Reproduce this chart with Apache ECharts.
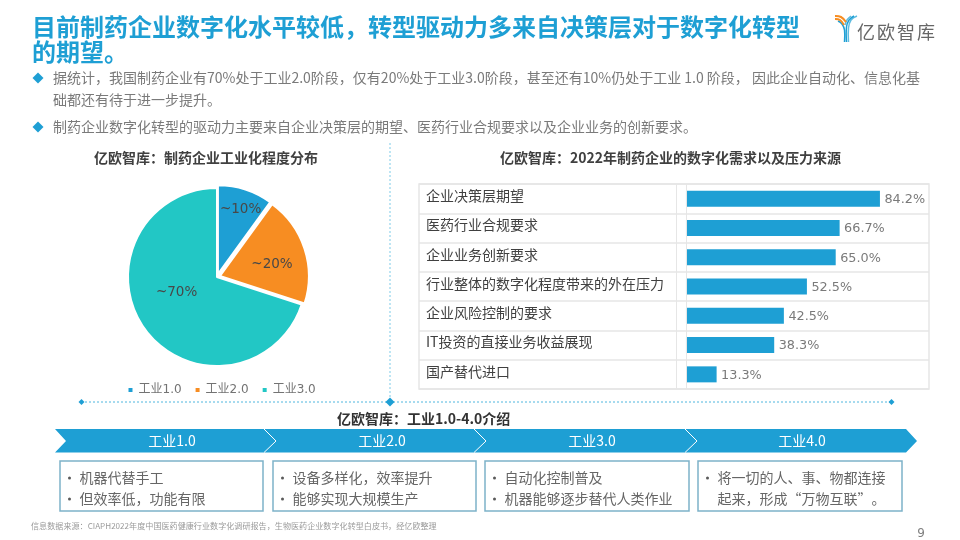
<!doctype html>
<html>
<head>
<meta charset="UTF-8">
<title>制药企业数字化</title>
<style>
html, body { margin: 0; padding: 0; background: #fff; }
#main { width: 960px; height: 540px; }
</style>
</head>
<body>
<div id="main"></div>
<script src="https://cdn.jsdelivr.net/npm/echarts@6/dist/echarts.min.js"></script>
<script>
// 饼图数据
var stageNames = ['工业1.0', '工业2.0', '工业3.0'];
var stageValues = [10, 20, 70];
// 条形图数据
var demandNames = ['企业决策层期望', '医药行业合规要求', '企业业务创新要求', '行业整体的数字化程度带来的外在压力', '企业风险控制的要求', 'IT投资的直接业务收益展现', '国产替代进口'];
var demandValues = [84.2, 66.7, 65.0, 52.5, 42.5, 38.3, 13.3];
// 文字
var titleLines = ['目前制药企业数字化水平较低，转型驱动力多来自决策层对于数字化转型', '的期望。'];
var bodyLines = [
	'据统计，我国制药企业有70%处于工业2.0阶段，仅有20%处于工业3.0阶段，甚至还有10%仍处于工业 1.0 阶段， 因此企业自动化、信息化基',
	'础都还有待于进一步提升。',
	'制药企业数字化转型的驱动力主要来自企业决策层的期望、医药行业合规要求以及企业业务的创新要求。'
];
var stepNames = ['工业1.0', '工业2.0', '工业3.0', '工业4.0'];
var stepTexts = [
	['机器代替手工', '但效率低，功能有限'],
	['设备多样化，效率提升', '能够实现大规模生产'],
	['自动化控制普及', '机器能够逐步替代人类作业'],
	['将一切的人、事、物都连接', '起来，形成“万物互联”。']
];
var sourceText = '信息数据来源：CIAPH2022年度中国医药健康行业数字化调研报告，生物医药企业数字化转型白皮书，经亿欧整理';

var BLUE = '#1E9FD4', ORANGE = '#F78D22', TEAL = '#22C7C5';
var CJK = '"Noto Sans CJK SC", sans-serif';
var LATIN = '"DejaVu Sans", "Noto Sans CJK SC", sans-serif';
var pieLabelOffsets = [[8, -19], [7, 3], [-2, -12]];

function text(x, y, str, size, color, weight, align, family) {
	return {
		type: 'text', z: 10,
		style: {
			x: x, y: y, text: str, fontSize: size, fill: color,
			fontWeight: weight || 'normal', fontFamily: family || CJK,
			align: align || 'left', verticalAlign: 'middle'
		}
	};
}
function diamond(x, y, r) {
	return {
		type: 'polygon', z: 10,
		shape: { points: [[x - r, y], [x, y - r], [x + r, y], [x, y + r]] },
		style: { fill: BLUE }
	};
}
function line(x1, y1, x2, y2, color, width, dash) {
	return {
		type: 'line', z: 9,
		shape: { x1: x1, y1: y1, x2: x2, y2: y2 },
		style: { stroke: color, lineWidth: width, lineDash: dash || null }
	};
}
function curve(points, color, width) {
	return {
		type: 'polyline', z: 10,
		shape: { points: points, smooth: 0.4 },
		style: { stroke: color, lineWidth: width, fill: 'none' }
	};
}

var graphics = [];
// 标题
titleLines.forEach(function(s, i) {
	graphics.push(text(32, 27 + i * 25, s, 24, BLUE, 'bold'));
});
// 正文
graphics.push(diamond(38, 78, 5.5), diamond(38, 127, 5.5));
graphics.push(text(53, 78, bodyLines[0], 14, '#7a7a7a'));
graphics.push(text(53, 100, bodyLines[1], 14, '#7a7a7a'));
graphics.push(text(53, 127, bodyLines[2], 14, '#7a7a7a'));
// 小标题
graphics.push(text(94, 158, '亿欧智库：制药企业工业化程度分布', 14, '#404040', 'bold'));
graphics.push(text(500, 158, '亿欧智库：2022年制药企业的数字化需求以及压力来源', 14, '#404040', 'bold'));
graphics.push(text(337, 419, '亿欧智库：工业1.0-4.0介绍', 14, '#333333', 'bold'));
// 分隔线
graphics.push(line(390, 143, 390, 402, '#7CCBE8', 1, [2, 2]));
graphics.push(line(81, 402, 891, 402, '#4FB6DE', 1, [2, 2]));
graphics.push(diamond(81.5, 402, 3), diamond(390, 402, 4.5), diamond(891.5, 402, 3));
// 流程箭头
graphics.push({
	type: 'polygon', z: 8,
	shape: { points: [[55, 429], [906, 429], [917, 441], [906, 452.5], [55, 452.5], [66, 441]] },
	style: { fill: BLUE }
});
[264, 474, 685].forEach(function(x) {
	graphics.push({
		type: 'polyline', z: 9,
		shape: { points: [[x, 429], [x + 12, 441], [x, 452.5]] },
		style: { stroke: '#fff', lineWidth: 1, fill: 'none' }
	});
});
var stepCenters = [172, 382, 592, 802];
stepNames.forEach(function(s, i) {
	graphics.push(text(stepCenters[i], 441, s, 14, '#fff', 'normal', 'center'));
});
// 说明框
var boxLefts = [60, 273, 485, 698];
var boxWidths = [203, 203, 204, 204];
stepTexts.forEach(function(lines, i) {
	var left = boxLefts[i];
	graphics.push({
		type: 'rect', z: 8,
		shape: { x: left, y: 461, width: boxWidths[i], height: 50 },
		style: { fill: '#fff', stroke: '#7DB2C9', lineWidth: 1.5 }
	});
	lines.forEach(function(s, j) {
		graphics.push(text(left + 19.5, 478 + j * 21, s, 14, '#666666'));
		if (i < 3 || j === 0) {
			graphics.push({
				type: 'circle', z: 10,
				shape: { cx: left + 9.5, cy: 478 + j * 21, r: 1.5 },
				style: { fill: '#595959' }
			});
		}
	});
});
// 页脚
graphics.push(text(31, 526, sourceText, 8.1, '#9a9a9a'));
graphics.push(text(921, 534, '9', 12, '#7f7f7f', 'normal', 'center', LATIN));
// 标志
graphics.push(text(857, 32, '亿', 18, '#666666'), text(877, 32, '欧', 18, '#666666'), text(897, 32, '智', 18, '#666666'), text(917, 32, '库', 18, '#666666'));
graphics.push(curve([[857, 16], [851, 20], [848.5, 28], [848.5, 42]], '#5FBCE0', 1.5));
graphics.push(curve([[854, 16], [849, 20], [846.5, 27], [846.5, 42]], BLUE, 1.5));
graphics.push(curve([[851, 16], [847, 20], [845, 25]], '#5FBCE0', 1.5));
graphics.push(curve([[838, 21], [842, 24], [844.5, 30], [844.5, 42]], BLUE, 1.5));
graphics.push(curve([[835, 16], [841, 17], [846, 22]], ORANGE, 2));
graphics.push(curve([[835, 19], [840, 20], [844, 25]], ORANGE, 2));

var option = {
	animation: false,
	legend: {
		data: stageNames,
		left: 121.5, top: 379,
		icon: 'rect', itemWidth: 6, itemHeight: 6, itemGap: 12,
		textStyle: { fontSize: 12, color: '#737373', fontFamily: LATIN }
	},
	grid: {
		left: 419, top: 184, width: 510, height: 205,
		show: true, borderColor: '#e6e6e6', borderWidth: 1.5, backgroundColor: '#fff'
	},
	// 负半轴留给行标题
	xAxis: { type: 'value', min: -115.9, max: 105.5, show: false },
	yAxis: {
		type: 'category', inverse: true, data: demandNames,
		axisLine: { show: false, onZero: false }, axisTick: { show: false },
		axisLabel: {
			inside: true, interval: 0, margin: 7, align: 'left', verticalAlign: 'bottom', lineHeight: 6,
			fontSize: 14, color: '#404040', fontFamily: CJK
		},
		splitLine: { show: true, interval: 0, lineStyle: { color: '#e6e6e6', width: 1.5 } }
	},
	series: [{
		type: 'pie',
		center: [217, 277], radius: 89,
		startAngle: 90, clockwise: true,
		selectedMode: 'multiple', selectedOffset: 3,
		itemStyle: { borderColor: '#fff', borderWidth: 2 },
		color: [BLUE, ORANGE, TEAL],
		label: { position: 'inner', formatter: '~{c}%', fontSize: 13.5, color: '#484848', fontFamily: LATIN },
		labelLine: { show: false },
		data: stageNames.map(function(name, i) {
			return {
				name: name, value: stageValues[i], selected: i < 2,
				label: { offset: pieLabelOffsets[i] },
				select: { label: { offset: pieLabelOffsets[i] } }
			};
		})
	}, {
		type: 'bar',
		data: demandValues,
		barWidth: 16,
		itemStyle: { color: BLUE },
		label: {
			show: true, position: 'right', distance: 4.5, offset: [0, 1], fontSize: 12.8, color: '#7a7a7a', fontFamily: LATIN,
			formatter: function(p) { return p.value.toFixed(1) + '%'; }
		},
		markLine: {
			silent: true, symbol: 'none', label: { show: false },
			lineStyle: { color: '#e6e6e6', width: 1, type: 'solid' },
			data: [{ xAxis: -4.3 }, { xAxis: 0 }]
		}
	}],
	graphic: graphics
};
var chart = echarts.init(document.getElementById('main'));
chart.setOption(option);
</script>
</body>
</html>
